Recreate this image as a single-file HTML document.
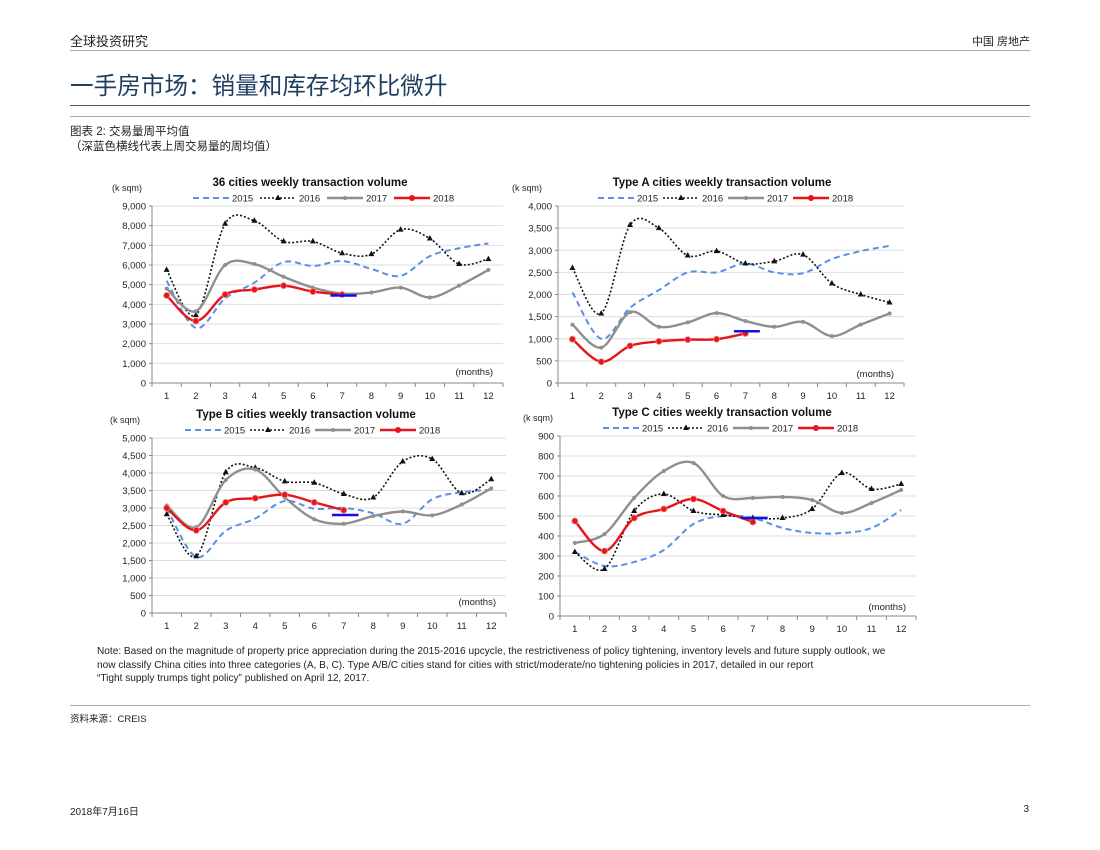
<!DOCTYPE html>
<html><head><meta charset="utf-8"><style>
body{margin:0;background:#fff;font-family:"Liberation Sans","Noto Sans CJK SC",sans-serif;}
#page{position:relative;width:1100px;height:850px;overflow:hidden;}
.t{position:absolute;white-space:nowrap;color:#222;}
.hl{position:absolute;left:70px;width:960px;height:1px;}
svg text{font-family:"Liberation Sans","Noto Sans CJK SC",sans-serif;}
</style></head><body><div id="page">
<div class="t" style="left:70px;top:31px;font-size:13px">全球投资研究</div>
<div class="t" style="right:70px;top:33px;font-size:11px">中国 房地产</div>
<div class="hl" style="top:50px;background:#aaa"></div>
<div class="t" style="left:70px;top:67px;font-size:23.6px;color:#1f3f60">一手房市场：销量和库存均环比微升</div>
<div class="hl" style="top:105px;background:#4a5a6a"></div>
<div class="hl" style="top:116px;background:#aaa"></div>
<div class="t" style="left:70px;top:123px;font-size:11.5px">图表 2: 交易量周平均值</div>
<div class="t" style="left:70px;top:138px;font-size:11.5px">（深蓝色横线代表上周交易量的周均值）</div>
<svg id="charts" width="1100" height="850" style="position:absolute;left:0;top:0"></svg>
<div class="t" style="left:97px;top:645px;font-size:10.1px;line-height:13.5px;white-space:normal;width:820px">Note: Based on the magnitude of property price appreciation during the 2015-2016 upcycle, the restrictiveness of policy tightening, inventory levels and future supply outlook, we<br>now classify China cities into three categories (A, B, C). Type A/B/C cities stand for cities with strict/moderate/no tightening policies in 2017, detailed in our report<br>“Tight supply trumps tight policy” published on April 12, 2017.</div>
<div class="hl" style="top:705px;background:#aaa"></div>
<div class="t" style="left:70px;top:711px;font-size:9.5px">资料来源：CREIS</div>
<div class="t" style="left:70px;top:803px;font-size:10px">2018年7月16日</div>
<div class="t" style="right:71px;top:804px;font-size:10px">3</div>
</div>
<script>
const months=[1,2,3,4,5,6,7,8,9,10,11,12];
const seriesNames=["2015","2016","2017","2018"];
const c1_2015=[5200,2800,4300,5100,6150,5950,6200,5800,5450,6450,6850,7100];
const c1_2016=[5750,3450,8100,8250,7200,7200,6600,6550,7800,7350,6050,6300];
const c1_2017=[4800,3650,6000,6050,5400,4850,4550,4600,4850,4350,4950,5750];
const c1_2018=[4450,3150,4500,4750,4950,4650,4500];
const c1_last=4450;
const c2_2015=[2050,1000,1700,2100,2500,2500,2700,2500,2480,2800,2980,3100];
const c2_2016=[2600,1570,3570,3500,2880,2980,2700,2750,2900,2250,2000,1820];
const c2_2017=[1320,800,1600,1270,1370,1580,1400,1270,1380,1060,1320,1570];
const c2_2018=[990,480,840,940,980,990,1120];
const c2_last=1170;
const c3_2015=[3000,1600,2350,2700,3200,2980,3000,2850,2550,3250,3450,3520];
const c3_2016=[2820,1620,4020,4150,3760,3720,3400,3300,4330,4400,3420,3820];
const c3_2017=[3070,2450,3800,4100,3300,2680,2550,2770,2900,2790,3100,3560];
const c3_2018=[3000,2360,3160,3280,3380,3160,2940];
const c3_last=2800;
const c4_2015=[320,250,270,330,460,500,490,440,415,415,440,530];
const c4_2016=[320,235,525,610,525,505,490,490,535,715,635,660];
const c4_2017=[365,410,590,725,765,600,590,595,580,515,565,630];
const c4_2018=[475,325,490,535,585,525,470];
const c4_last=490;
const t1=["0","1,000","2,000","3,000","4,000","5,000","6,000","7,000","8,000","9,000"];
const t2=["0","500","1,000","1,500","2,000","2,500","3,000","3,500","4,000"];
const t3=["0","500","1,000","1,500","2,000","2,500","3,000","3,500","4,000","4,500","5,000"];
const t4=["0","100","200","300","400","500","600","700","800","900"];

const NS="http://www.w3.org/2000/svg";
const svg=document.getElementById('charts');
function mk(tag,at,parent){const e=document.createElementNS(NS,tag);for(const k in at)e.setAttribute(k,at[k]);(parent||svg).appendChild(e);return e;}
function smooth(p){if(p.length<2)return '';let d=`M${p[0][0]},${p[0][1]}`;for(let i=0;i<p.length-1;i++){const p0=p[i-1]||p[i],p1=p[i],p2=p[i+1],p3=p[i+2]||p2;const c1=[p1[0]+(p2[0]-p0[0])/6,p1[1]+(p2[1]-p0[1])/6],c2=[p2[0]-(p3[0]-p1[0])/6,p2[1]-(p3[1]-p1[1])/6];d+=`C${c1[0]},${c1[1]} ${c2[0]},${c2[1]} ${p2[0]},${p2[1]}`;}return d;}
const styles=[{stroke:"#5b8ee6",w:2,dash:"6,4"},{stroke:"#111",w:1.6,dash:"2,2"},{stroke:"#8f8f8f",w:2.4,dash:""},{stroke:"#e8141c",w:2.4,dash:""}];
function chart(cfg){
  const g=mk('g',{});
  
  
  const {L,R,T,B,max,ticks}=cfg;
  const step=(R-L)/months.length;
  const x=m=>L+step*(m-0.5);
  const y=v=>B-(v/max)*(B-T);
  const n=ticks.length-1;
  ticks.forEach((tk,i)=>{const v=max*i/n;const gl=mk('line',{x1:L,x2:R,y1:y(v),y2:y(v),stroke:i?"#ddd":"#888","stroke-width":1},g);
    const tx=mk('text',{x:L-6,y:y(v)+3.5,"font-size":9.5,"text-anchor":"end",fill:"#222"},g);tx.textContent=tk;
    mk('line',{x1:L-3,x2:L,y1:y(v),y2:y(v),stroke:"#888"},g);});
  mk('line',{x1:L,x2:L,y1:T,y2:B,stroke:"#888"},g);
  months.forEach((m,i)=>{mk('line',{x1:L+step*i,x2:L+step*i,y1:B,y2:B+4,stroke:"#888"},g);
    const tx=mk('text',{x:x(m),y:B+16,"font-size":9.5,"text-anchor":"middle",fill:"#222"},g);tx.textContent=m;});
  mk('line',{x1:R,x2:R,y1:B,y2:B+4,stroke:"#888"},g);
  let tx=mk('text',{x:cfg.titleX,y:T-20,"font-size":11.5,"font-weight":"bold","text-anchor":"middle",fill:"#111"},g);tx.textContent=cfg.title;
  tx=mk('text',{x:cfg.unitX,y:T-15,"font-size":9,fill:"#222"},g);tx.textContent="(k sqm)";
  tx=mk('text',{x:R-10,y:cfg.monthsY,"font-size":9.5,"text-anchor":"end",fill:"#222"},g);tx.textContent="(months)";
  cfg.data.forEach((d,si)=>{const s=styles[si];const pts=d.map((v,i)=>[x(months[i]),y(v)]);
    const p=mk('path',{d:smooth(pts),fill:"none",stroke:s.stroke,"stroke-width":s.w,"stroke-dasharray":s.dash},g);
    pts.forEach(pt=>{let mkr=null;
      if(si==1)mkr=mk('path',{d:`M${pt[0]},${pt[1]-3.5}l3,5.5h-6z`,fill:"#111"},g);
      else if(si==2)mkr=mk('circle',{cx:pt[0],cy:pt[1],r:2,fill:"#8f8f8f"},g);
      else if(si==3)mkr=mk('circle',{cx:pt[0],cy:pt[1],r:3,fill:"#e8141c",stroke:"#f08080","stroke-width":0.8},g);
      if(mkr){}});
  });
  const bl=mk('line',{x1:x(6.6),x2:x(7.5),y1:y(cfg.last),y2:y(cfg.last),stroke:"#1010e0","stroke-width":2.5},g);
  const ly=T-8;let lx=cfg.legX;
  seriesNames.forEach((nm,si)=>{const s=styles[si];const lg=mk('g',{},g);
    mk('line',{x1:lx,x2:lx+36,y1:ly,y2:ly,stroke:s.stroke,"stroke-width":s.w,"stroke-dasharray":s.dash},lg);
    if(si==1)mk('path',{d:`M${lx+18},${ly-3.5}l3,5.5h-6z`,fill:"#111"},lg);
    if(si==2)mk('circle',{cx:lx+18,cy:ly,r:2,fill:"#8f8f8f"},lg);
    if(si==3)mk('circle',{cx:lx+18,cy:ly,r:3,fill:"#e8141c"},lg);
    const t=mk('text',{x:lx+39,y:ly+3.5,"font-size":9.5,fill:"#222"},lg);t.textContent=nm;lx+=cfg.legStep;});
}
chart({name:'chart-36-cities',title:'36 cities weekly transaction volume',L:152,R:503,T:206,B:383,max:9000,ticks:t1,last:c1_last,titleX:310,unitX:112,monthsY:375,legX:193,legStep:67,data:[c1_2015,c1_2016,c1_2017,c1_2018]});
chart({name:'chart-type-a',title:'Type A cities weekly transaction volume',L:558,R:904,T:206,B:383,max:4000,ticks:t2,last:c2_last,titleX:722,unitX:512,monthsY:377,legX:598,legStep:65,data:[c2_2015,c2_2016,c2_2017,c2_2018]});
chart({name:'chart-type-b',title:'Type B cities weekly transaction volume',L:152,R:506,T:438,B:613,max:5000,ticks:t3,last:c3_last,titleX:306,unitX:110,monthsY:605,legX:185,legStep:65,data:[c3_2015,c3_2016,c3_2017,c3_2018]});
chart({name:'chart-type-c',title:'Type C cities weekly transaction volume',L:560,R:916,T:436,B:616,max:900,ticks:t4,last:c4_last,titleX:722,unitX:523,monthsY:610,legX:603,legStep:65,data:[c4_2015,c4_2016,c4_2017,c4_2018]});
</script></body></html>
